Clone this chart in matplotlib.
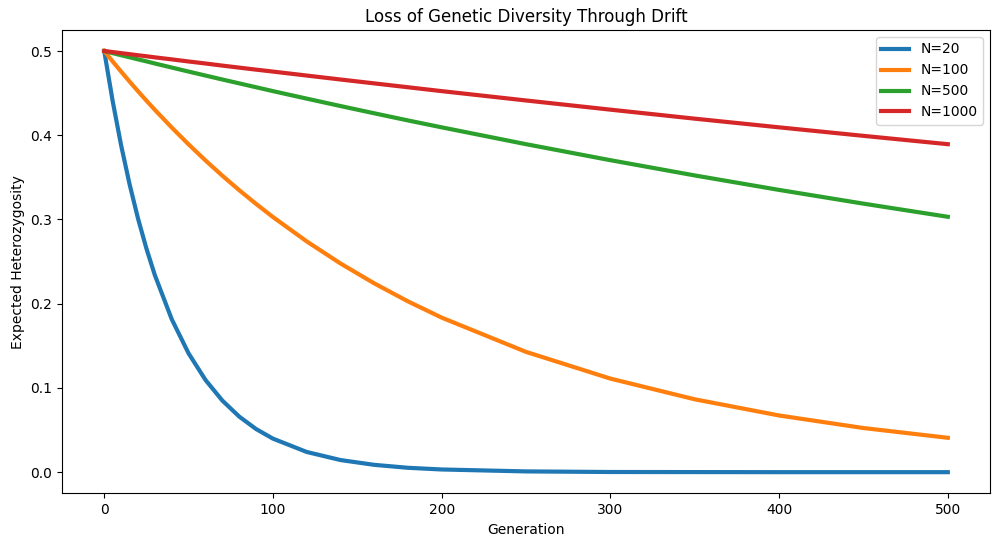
import matplotlib
matplotlib.use("Agg")
import matplotlib.pyplot as plt

# generations sampled (denser near the start where N=20 drops fast)
generations = [0, 5, 10, 15, 20, 25, 30, 40, 50, 60, 70, 80, 90, 100,
               120, 140, 160, 180, 200, 250, 300, 350, 400, 450, 500]

het_n20 = [0.5, 0.4405, 0.3881, 0.3420, 0.3013, 0.2655, 0.2339, 0.1816, 0.1410,
           0.1095, 0.0850, 0.0660, 0.0512, 0.0398, 0.0240, 0.0144, 0.0087,
           0.0052, 0.0032, 0.0009, 0.0002, 0.0001, 0.0, 0.0, 0.0]
het_n100 = [0.5, 0.4876, 0.4756, 0.4638, 0.4523, 0.4411, 0.4302, 0.4092, 0.3892,
            0.3701, 0.3520, 0.3348, 0.3185, 0.3029, 0.2740, 0.2478, 0.2242,
            0.2028, 0.1835, 0.1428, 0.1111, 0.0865, 0.0673, 0.0524, 0.0408]
het_n500 = [0.5, 0.4975, 0.4950, 0.4926, 0.4901, 0.4877, 0.4852, 0.4804, 0.4756,
            0.4709, 0.4662, 0.4616, 0.4570, 0.4524, 0.4435, 0.4347, 0.4261,
            0.4176, 0.4094, 0.3894, 0.3704, 0.3523, 0.3351, 0.3188, 0.3032]
het_n1000 = [0.5, 0.4988, 0.4975, 0.4963, 0.4950, 0.4938, 0.4925, 0.4901, 0.4876,
             0.4852, 0.4827, 0.4803, 0.4779, 0.4756, 0.4709, 0.4662, 0.4616,
             0.4570, 0.4524, 0.4413, 0.4304, 0.4197, 0.4094, 0.3993, 0.3894]

series = [("N=20", het_n20), ("N=100", het_n100),
          ("N=500", het_n500), ("N=1000", het_n1000)]

fig = plt.figure(figsize=(10.01, 5.45), dpi=100)
ax = fig.add_axes([0.062, 0.095, 0.927, 0.850])
for label, vals in series:
    ax.plot(generations, vals, lw=3, label=label)

ax.set_title("Loss of Genetic Diversity Through Drift")
ax.set_xlabel("Generation")
ax.set_ylabel("Expected Heterozygosity")
ax.legend(loc="upper right")

fig.savefig("out.png", dpi=100)
